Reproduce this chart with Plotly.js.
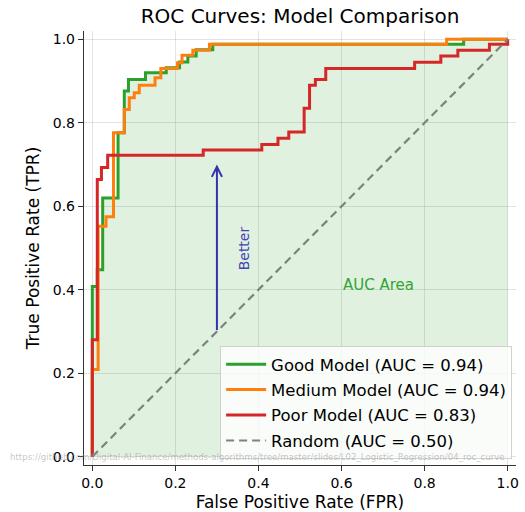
<!DOCTYPE html>
<html>
<head>
<meta charset="utf-8">
<script src="https://cdn.plot.ly/plotly-3.0.1.min.js"></script>
<style>html,body{margin:0;padding:0;background:#fff;}#chart{width:525px;height:512px;}</style>
</head>
<body>
<div id="chart"></div>
<script>
// ROC corner points
const goodFpr = [0, 0, 0.012, 0.012, 0.025, 0.025, 0.062, 0.062, 0.077, 0.077, 0.087, 0.087, 0.128, 0.128, 0.178, 0.178, 0.21, 0.21, 0.23, 0.23, 0.25, 0.25, 0.29, 0.29, 0.894, 0.894, 1.0];
const goodTpr = [0, 0.408, 0.408, 0.448, 0.448, 0.620, 0.620, 0.776, 0.776, 0.876, 0.876, 0.904, 0.904, 0.920, 0.920, 0.932, 0.932, 0.946, 0.946, 0.960, 0.960, 0.975, 0.975, 0.988, 0.988, 1.0, 1.0];

const mediumFpr = [0, 0, 0.014, 0.014, 0.033, 0.033, 0.051, 0.051, 0.077, 0.077, 0.089, 0.089, 0.101, 0.101, 0.113, 0.113, 0.151, 0.151, 0.165, 0.165, 0.205, 0.205, 0.216, 0.216, 0.242, 0.242, 0.282, 0.282, 0.853, 0.853, 1.0];
const mediumTpr = [0, 0.209, 0.209, 0.552, 0.552, 0.575, 0.575, 0.776, 0.776, 0.832, 0.832, 0.860, 0.860, 0.872, 0.872, 0.890, 0.890, 0.908, 0.908, 0.930, 0.930, 0.944, 0.944, 0.962, 0.962, 0.974, 0.974, 0.988, 0.988, 1.0, 1.0];

const poorFpr = [0, 0, 0.012, 0.012, 0.022, 0.022, 0.037, 0.037, 0.267, 0.267, 0.408, 0.408, 0.447, 0.447, 0.473, 0.473, 0.510, 0.510, 0.523, 0.523, 0.537, 0.537, 0.562, 0.562, 0.776, 0.776, 0.839, 0.839, 0.880, 0.880, 0.956, 0.956, 1.0, 1.0];
const poorTpr = [0, 0.28, 0.28, 0.664, 0.664, 0.693, 0.693, 0.722, 0.722, 0.735, 0.735, 0.748, 0.748, 0.763, 0.763, 0.778, 0.778, 0.835, 0.835, 0.890, 0.890, 0.904, 0.904, 0.930, 0.930, 0.945, 0.945, 0.960, 0.960, 0.974, 0.974, 0.988, 0.988, 1.0];

const randomFpr = [0, 1];
const randomTpr = [0, 1];

const labels = ["Good Model (AUC = 0.94)", "Medium Model (AUC = 0.94)", "Poor Model (AUC = 0.83)", "Random (AUC = 0.50)"];
const tickVals = [0, 0.2, 0.4, 0.6, 0.8, 1.0];
const tickText = ["0.0", "0.2", "0.4", "0.6", "0.8", "1.0"];
const sourceUrl = "https://github.com/Digital-AI-Finance/methods-algorithms/tree/master/slides/L02_Logistic_Regression/04_roc_curve";

const FONT = "DejaVu Sans, sans-serif";

const traces = [
  {x: goodFpr, y: goodTpr, type: 'scatter', mode: 'lines', fill: 'tozeroy',
   fillcolor: 'rgba(44,160,44,0.15)', line: {width: 0, color: 'rgba(0,0,0,0)'},
   showlegend: false, hoverinfo: 'skip'},
  {x: goodFpr, y: goodTpr, type: 'scatter', mode: 'lines', name: labels[0], legendgroup: 'g1',
   line: {color: '#2ca02c', width: 3}},
  {x: mediumFpr, y: mediumTpr, type: 'scatter', mode: 'lines', name: labels[1], legendgroup: 'g2',
   line: {color: '#ff7f0e', width: 3}},
  {x: poorFpr, y: poorTpr, type: 'scatter', mode: 'lines', name: labels[2], legendgroup: 'g3',
   line: {color: '#d62728', width: 3}},
  {x: randomFpr, y: randomTpr, type: 'scatter', mode: 'lines', name: labels[3], legendgroup: 'g4',
   line: {color: 'rgba(128,128,128,1)', width: 2.2, dash: '8px,5px'}}
];

const axisCommon = {
  range: [-0.02, 1.02], tickvals: tickVals, ticktext: tickText,
  showgrid: true, gridcolor: 'rgba(176,176,176,0.35)', gridwidth: 1,
  zeroline: false, showline: true, linecolor: '#333', linewidth: 1.2,
  ticks: 'outside', ticklen: 5, tickcolor: '#333', tickwidth: 1,
  tickfont: {family: FONT, size: 14, color: '#000'}, mirror: false
};

const layout = {
  width: 525, height: 512,
  margin: {l: 84, r: 9, t: 31, b: 47},
  paper_bgcolor: '#fff', plot_bgcolor: '#fff',
  font: {family: FONT, color: '#000'},
  title: {text: 'ROC Curves: Model Comparison', font: {family: FONT, size: 20, color: '#000'},
          x: 300/525, xanchor: 'center', y: 1 - 16/512, yanchor: 'middle'},
  xaxis: Object.assign({}, axisCommon, {
    title: {text: 'False Positive Rate (FPR)', font: {family: FONT, size: 17}, standoff: 7}
  }),
  yaxis: Object.assign({}, axisCommon, {
    title: {text: 'True Positive Rate (TPR)', font: {family: FONT, size: 17}, standoff: 8}
  }),
  legend: {
    x: 0.991, xanchor: 'right', y: 0.014, yanchor: 'bottom',
    bgcolor: 'rgba(255,255,255,0.8)', bordercolor: '#d0d0d0', borderwidth: 1,
    font: {family: FONT, size: 16.5, color: '#000'},
    itemwidth: 40, tracegroupgap: 1
  },
  showlegend: true,
  annotations: [
    {x: 0.3, y: 0.7, ax: 0.3, ay: 0.3, xref: 'x', yref: 'y', axref: 'x', ayref: 'y',
     showarrow: true, arrowhead: 5, arrowsize: 1, arrowwidth: 2, arrowcolor: '#3333aa', text: ''},
    {x: 0.366, y: 0.5, xref: 'x', yref: 'y', text: 'Better', showarrow: false, textangle: -90,
     font: {family: FONT, size: 14, color: '#4545b5'}},
    {x: 0.688, y: 0.412, xref: 'x', yref: 'y', text: 'AUC Area', showarrow: false,
     font: {family: FONT, size: 15, color: '#33a533'}},
    {x: (8 - 84) / 432, y: (465 - 457) / 434, xref: 'paper', yref: 'paper', xanchor: 'left', yanchor: 'middle',
     text: sourceUrl, showarrow: false, font: {family: FONT, size: 8.6, color: 'rgba(150,150,150,0.55)'}}
  ]
};

Plotly.newPlot('chart', traces, layout, {displayModeBar: false, staticPlot: true});
</script>
</body>
</html>
